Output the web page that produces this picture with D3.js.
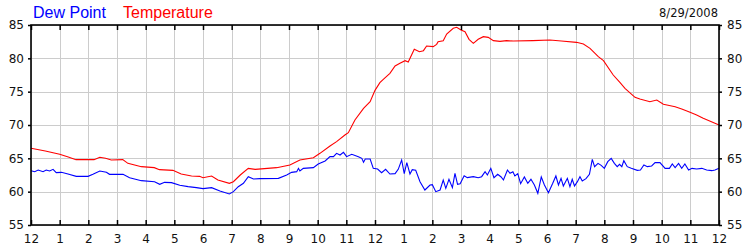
<!DOCTYPE html>
<html>
<head>
<meta charset="utf-8">
<script src="https://cdn.jsdelivr.net/npm/d3@7"></script>
<style>
  body { margin: 0; background: #fff; }
  svg { display: block; }
</style>
</head>
<body>
<div id="chart"></div>
<script>
// hours since midnight, degrees F
var temperature = [[0,66.5],[0.5,66.1],[1,65.6],[1.3,65.2],[1.57,64.8],[2.2,64.8],[2.4,65.15],[2.6,65.0],[2.8,64.75],[3.2,64.8],[3.38,64.25],[3.85,63.75],[4.3,63.6],[4.48,63.3],[4.95,63.2],[5.24,62.65],[5.6,62.35],[5.88,62.3],[6.0,62.1],[6.3,62.35],[6.52,61.75],[6.92,61.25],[7.06,61.5],[7.3,62.5],[7.58,63.5],[7.82,63.35],[8.57,63.6],[9.03,64.0],[9.38,64.75],[9.85,65.1],[10.08,65.75],[10.43,66.85],[10.66,67.5],[10.95,68.5],[11.07,68.85],[11.3,70.75],[11.6,72.5],[11.83,73.5],[12.0,75.2],[12.17,76.35],[12.29,76.85],[12.52,77.75],[12.7,78.85],[12.87,79.25],[13.05,79.65],[13.16,79.45],[13.37,81.35],[13.55,81.0],[13.69,81.15],[13.8,81.85],[14.03,81.75],[14.15,82.1],[14.2,82.5],[14.38,82.65],[14.5,83.65],[14.73,84.5],[14.85,84.65],[15.0,84.25],[15.14,84.0],[15.28,82.85],[15.43,82.25],[15.6,82.85],[15.78,83.25],[15.95,83.15],[16.13,82.65],[16.36,82.55],[16.59,82.65],[16.82,82.6],[17.5,82.65],[18.1,82.75],[18.5,82.6],[19.03,82.4],[19.27,82.15],[19.5,81.5],[19.79,80.25],[19.97,79.65],[20.31,77.5],[20.55,76.35],[20.72,75.5],[21.07,74.15],[21.24,73.9],[21.59,73.5],[21.83,73.75],[22.06,73.1],[22.47,72.75],[22.7,72.4],[22.99,71.9],[23.22,71.5],[23.45,71.0],[23.92,70.15],[24,70.0]];

var dewPoint = [[0,63.15],[0.13,63.0],[0.25,63.25],[0.42,63.0],[0.53,63.25],[0.65,63.1],[0.77,63.35],[0.88,62.85],[1.06,62.9],[1.29,62.65],[1.58,62.3],[1.99,62.3],[2.16,62.6],[2.4,63.1],[2.63,62.9],[2.74,62.6],[3.21,62.6],[3.44,62.1],[3.85,61.65],[4.31,61.5],[4.49,61.1],[4.66,61.4],[4.9,61.35],[5.19,60.95],[5.48,60.75],[5.77,60.6],[6.0,60.45],[6.3,60.6],[6.59,60.1],[6.92,59.65],[7.06,60.0],[7.23,60.75],[7.41,61.25],[7.58,62.25],[7.76,61.9],[7.99,61.95],[8.63,62.0],[8.92,62.5],[9.09,62.9],[9.27,63.0],[9.33,63.5],[9.38,63.1],[9.5,63.5],[9.85,63.6],[10.02,64.15],[10.26,64.6],[10.43,65.25],[10.55,65.25],[10.66,65.75],[10.78,65.5],[10.9,65.9],[11.01,65.25],[11.19,65.6],[11.42,65.25],[11.54,65.0],[11.6,64.4],[11.66,64.9],[11.83,64.9],[11.94,63.5],[12.09,63.4],[12.23,62.85],[12.37,63.35],[12.52,62.65],[12.7,62.7],[12.81,63.35],[12.93,64.75],[13.02,62.7],[13.11,64.35],[13.22,62.65],[13.3,63.3],[13.42,63.2],[13.57,61.5],[13.74,60.25],[13.92,61.0],[14.0,61.05],[14.12,60.0],[14.27,60.25],[14.38,61.75],[14.47,60.5],[14.58,61.85],[14.7,60.6],[14.79,62.75],[14.88,61.1],[14.97,61.2],[15.11,62.4],[15.22,62.1],[15.43,62.25],[15.6,62.1],[15.72,62.25],[15.84,63.0],[15.92,62.5],[16.04,63.5],[16.15,62.1],[16.28,62.6],[16.4,62.2],[16.48,61.75],[16.62,63.25],[16.71,62.75],[16.81,63.0],[16.88,62.35],[16.98,62.7],[17.08,61.2],[17.21,62.2],[17.33,61.25],[17.44,61.85],[17.56,61.0],[17.68,59.75],[17.8,62.2],[17.91,61.0],[18.05,59.85],[18.2,61.25],[18.31,62.35],[18.4,61.0],[18.49,62.0],[18.57,60.85],[18.71,62.0],[18.8,60.75],[18.88,61.85],[18.96,60.85],[19.06,61.5],[19.15,62.25],[19.23,61.6],[19.36,61.95],[19.48,62.6],[19.58,64.85],[19.66,63.75],[19.78,64.25],[19.89,63.95],[20.0,63.5],[20.12,64.5],[20.24,65.0],[20.35,64.25],[20.45,63.75],[20.53,64.1],[20.61,63.75],[20.68,64.65],[20.8,63.75],[20.94,63.5],[21.15,63.2],[21.26,63.25],[21.38,64.0],[21.5,63.75],[21.65,63.85],[21.77,64.35],[21.94,64.35],[22.12,63.5],[22.27,63.5],[22.37,64.15],[22.47,63.6],[22.59,64.25],[22.7,63.5],[22.81,64.15],[22.94,63.25],[23.06,63.5],[23.22,63.4],[23.4,63.5],[23.57,63.25],[23.75,63.15],[23.86,63.25],[24,63.5]];

var hourTicks = d3.range(0, 25);
var hourLabels = ["12","1","2","3","4","5","6","7","8","9","10","11","12","1","2","3","4","5","6","7","8","9","10","11","12"];
var tempTicks = [55, 60, 65, 70, 75, 80, 85];
var dateLabel = "8/29/2008";

var W = 750, H = 250;
var m = { left: 31, right: 719, top: 25, bottom: 225 };

var svg = d3.select("#chart").append("svg")
  .attr("width", W)
  .attr("height", H);

var x = d3.scaleLinear().domain([0, 24]).range([m.left, m.right]);
var y = d3.scaleLinear().domain([55, 85]).range([m.bottom, m.top]);

// grid
svg.append("g")
  .selectAll("line")
  .data(hourTicks)
  .enter().append("line")
  .attr("x1", d => Math.round(x(d)) + 0.5).attr("x2", d => Math.round(x(d)) + 0.5)
  .attr("y1", m.top).attr("y2", m.bottom)
  .style("stroke", "#cccccc");

svg.append("g")
  .selectAll("line")
  .data(tempTicks)
  .enter().append("line")
  .attr("x1", m.left).attr("x2", m.right)
  .attr("y1", d => Math.round(y(d)) + 0.5).attr("y2", d => Math.round(y(d)) + 0.5)
  .style("stroke", "#cccccc");

// series
var line = d3.line()
  .x(d => x(d[0]))
  .y(d => y(d[1]));

svg.append("path")
  .datum(dewPoint)
  .attr("d", line)
  .style("fill", "none")
  .style("stroke", "#0000ff")
  .style("stroke-width", 1.1);

svg.append("path")
  .datum(temperature)
  .attr("d", line)
  .style("fill", "none")
  .style("stroke", "#ff0000")
  .style("stroke-width", 1.1);

// axes
var font = "'DejaVu Sans', Verdana, sans-serif";

var xBottom = d3.axisBottom(x)
  .tickValues(hourTicks)
  .tickFormat((d, i) => hourLabels[i])
  .tickSizeInner(-5)
  .tickSizeOuter(0)
  .tickPadding(9);

var xTop = d3.axisTop(x)
  .tickValues(hourTicks)
  .tickFormat("")
  .tickSizeInner(-5)
  .tickSizeOuter(0);

var yLeft = d3.axisLeft(y)
  .tickValues(tempTicks)
  .tickSizeInner(3)
  .tickSizeOuter(0)
  .tickPadding(4);

var yRight = d3.axisRight(y)
  .tickValues(tempTicks)
  .tickSizeInner(3)
  .tickSizeOuter(0)
  .tickPadding(5);

svg.append("g").attr("transform", "translate(0," + m.bottom + ")").call(xBottom);
svg.append("g").attr("transform", "translate(0," + m.top + ")").call(xTop);
svg.append("g").attr("transform", "translate(" + m.left + ",0)").call(yLeft);
svg.append("g").attr("transform", "translate(" + m.right + ",0)").call(yRight);

svg.selectAll(".domain").remove();
svg.selectAll(".tick line").style("stroke", "#000").style("stroke-width", 1.5);
svg.selectAll(".tick text")
  .style("font-family", font)
  .style("font-size", "12px")
  .style("fill", "#111");

// frame
svg.append("rect")
  .attr("x", m.left).attr("y", m.top)
  .attr("width", m.right - m.left).attr("height", m.bottom - m.top)
  .style("fill", "none")
  .style("stroke", "#000")
  .style("stroke-width", 1.6);

// legend
svg.append("text")
  .attr("x", 33).attr("y", 18)
  .style("font-family", "'Liberation Sans', Arial, sans-serif")
  .style("font-size", "16px")
  .style("fill", "#0000ff")
  .text("Dew Point");

svg.append("text")
  .attr("x", 123).attr("y", 18)
  .style("font-family", "'Liberation Sans', Arial, sans-serif")
  .style("font-size", "16px")
  .style("fill", "#ff0000")
  .text("Temperature");

svg.append("text")
  .attr("x", 718).attr("y", 17)
  .attr("text-anchor", "end")
  .style("font-family", font)
  .style("font-size", "11.5px")
  .style("fill", "#111")
  .text(dateLabel);
</script>
</body>
</html>
